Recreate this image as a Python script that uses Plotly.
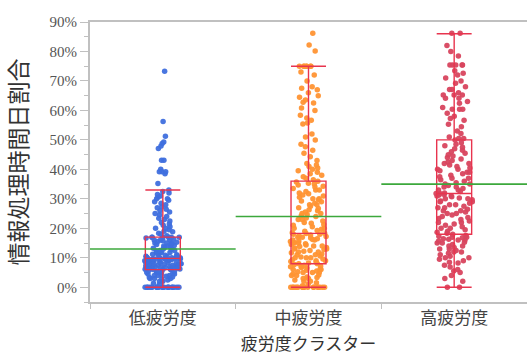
import plotly.graph_objects as go

categories = ["低疲労度", "中疲労度", "高疲労度"]

low_vals = [0, 0, 0, 0, 0, 0, 0, 0, 0, 0, 0, 0, 0, 0, 0, 0, 0, 0, 0, 0, 0, 0,
            1, 1.4, 2, 2, 2.5, 2.8, 3, 3, 3, 3.3, 3.5, 3.7, 4, 4, 4, 4.2, 4.5, 4.5, 4.8, 5, 5, 5, 5.2, 5.5, 5.5, 5.7, 5.9, 6,
            6, 6, 6.1, 6.2, 6.3, 6.5, 6.5, 6.6, 6.7, 6.7, 6.9, 7, 7, 7, 7.1, 7.2, 7.4, 7.5, 7.5, 7.7, 7.8, 8, 8, 8, 8, 8.1,
            8.3, 8.3, 8.4, 8.5, 8.6, 8.7, 8.9, 9, 9, 9, 9.1, 9.2, 9.3, 9.4, 9.5, 9.5, 9.6, 9.7, 9.7, 9.8, 9.8, 9.8, 9.8, 9.8,
            10, 10, 10, 10, 10, 10.2, 10.4, 10.5, 10.7, 10.9, 11, 11, 11.2, 11.5, 11.7, 11.8, 12, 12, 12.3, 12.5, 12.5, 12.8,
            13, 13, 13.2, 13.5, 13.7, 14, 14, 14.2, 14.5, 14.7, 15, 15, 15, 15.3, 15.5, 15.8, 16, 16, 16.2, 16.4, 16.7, 16.8,
            17, 17, 17, 17, 17, 17,
            17.5, 18, 18.3, 18.8, 19, 19.5, 20, 20, 20.5, 21, 21.5, 22, 22.5, 23, 23.4, 24, 24.5, 25, 25.5, 26, 26.5, 27,
            27.3, 28, 28.5, 29, 29.5, 30, 30, 30.5, 31, 31.5, 32, 32.5, 33,
            35.2, 38.5, 39.2, 39.2, 39.2, 40, 43.1, 43.1, 47.1, 47.9, 48.8, 49.3, 51.2, 56.2, 73.3]

mid_vals = [0, 0, 0, 0, 0, 0, 0, 0, 0, 0, 0, 0, 0, 0, 0, 0, 0, 0,
            0.5, 1, 1.5, 2, 2, 2.5, 3, 3, 3.3, 3.5, 4, 4, 4.2, 4.5, 5, 5, 5, 5.3, 5.5, 5.8, 6, 6, 6.2, 6.5, 6.7, 7, 7, 7.2,
            7.5, 7.7, 8, 8,
            8.2, 8.5, 8.7, 9, 9, 9.3, 9.6, 10, 10, 10, 10.3, 10.6, 11, 11, 11.3, 11.7, 12, 12, 12.2, 12.5, 12.8, 13, 13, 13.3,
            13.5, 13.8, 14, 14, 14.3, 14.5, 14.8, 15, 15, 15.2, 15.5, 15.7, 16, 16, 16.2, 16.5, 16.7, 17, 17, 17.2, 17.5, 17.7,
            18, 18, 18.2, 18.3,
            18.5, 19, 19.3, 19.7, 20, 20, 20.5, 21, 21.3, 21.7, 22, 22.5, 23, 23, 23.5, 24, 24.3, 24.7, 25, 25, 25.5, 26, 26.3,
            26.7, 27, 27.5, 28, 28, 28.5, 29, 29.3, 29.7, 30, 30, 30.5, 31, 31.3, 31.7, 32, 32.5, 33, 33, 33.5, 34, 34.3, 34.7,
            35, 35.3, 35.7, 36,
            36.5, 37, 37.5, 38, 38.5, 39, 39.5, 40, 40.5, 41, 41.5, 42, 43, 44.3, 45.5, 46.5, 47.7, 48.5, 50, 51, 52, 55.4, 55.7,
            56.7, 57.4, 58.4, 60, 60.8, 62.5, 62.8, 63.5, 64.5, 65, 66, 67, 67.5, 68, 70, 72, 73, 75, 75, 75, 75, 75, 75, 75,
            80.2, 82.2, 86.2]

high_vals = [0, 0, 2, 3, 4, 5, 5.5, 6, 6.9, 7.5, 8.2, 8.5, 9, 9.5, 10, 10, 10.5, 11, 11.5, 12, 12, 12.5, 13, 13, 13.5,
             14, 14, 14.5, 15, 15, 15.3, 15.7, 16, 16, 16.3, 16.5, 16.8, 17, 17, 17.3, 17.6, 18,
             18.3, 18.7, 19, 19.5, 20, 20, 20.5, 21, 21.5, 22, 22, 22.5, 23, 23.3, 23.7, 24, 24.5, 25, 25, 25.5, 26, 26, 26.5,
             27, 27, 27.5, 28, 28, 28.5, 29, 29, 29.3, 29.7, 30, 30, 30.3, 30.7, 31, 31, 31.3, 31.5, 31.8, 31.8,
             32, 32.5, 33, 33, 33.5, 34, 34, 34.5, 35, 35, 35.5, 36, 36.5, 37, 37, 37.5, 38, 38.5, 39, 39, 39.5, 40, 40, 40.5,
             41, 41.5, 42, 42, 42.5, 43, 43.5, 44, 44.5, 45, 45.5, 46, 46.5, 47, 47.5, 48, 48.5, 49, 50,
             50.5, 50.5, 51, 52.2, 53, 54.5, 55.3, 56.7, 57.3, 58, 59, 60.4, 60.4, 60.4, 61, 62.4, 63, 64.1, 64.1, 65.2, 65.2,
             65.2, 66, 67.1, 67.1, 68, 69.2, 70, 71, 72, 72.6, 73.5, 75.4, 75.4, 75.4, 75.4, 75.4, 78.5, 80, 82, 86.2, 86.2]

series_values = [low_vals, mid_vals, high_vals]

# box statistics (%)
q1_vals = [6, 8, 18]
median_vals = [9.8, 18.3, 31.8]
q3_vals = [17, 36, 50]
lower_fence = [0, 0, 0]
upper_fence = [33, 75, 86]
mean_vals = [13, 24, 35]

point_colors = ["#3f6fde", "#ff9333", "#d8445e"]
box_color = "#e8344e"
mean_color = "#3ca83c"
axis_color = "#c0c0c0"

fig = go.Figure()

for cat, vals, col in zip(categories, series_values, point_colors):
    fig.add_trace(go.Box(
        y=vals, name=cat, boxpoints="all", jitter=1, pointpos=0,
        width=0.25, line=dict(width=0, color="rgba(0,0,0,0)"),
        fillcolor="rgba(0,0,0,0)",
        marker=dict(color=col, size=5.5, opacity=0.95),
        hoverinfo="y",
    ))

for i, cat in enumerate(categories):
    fig.add_trace(go.Box(
        x=[cat], q1=[q1_vals[i]], median=[median_vals[i]], q3=[q3_vals[i]],
        lowerfence=[lower_fence[i]], upperfence=[upper_fence[i]],
        width=0.24, whiskerwidth=1, boxpoints=False,
        line=dict(color=box_color, width=1.4),
        fillcolor="rgba(0,0,0,0)",
    ))

for i, m in enumerate(mean_vals):
    fig.add_shape(type="line", xref="x", yref="y", x0=i - 0.5, x1=i + 0.5, y0=m, y1=m,
                  line=dict(color=mean_color, width=1.6), layer="above")

fig.update_layout(
    width=527, height=356,
    margin=dict(l=90, r=0, t=22, b=54),
    plot_bgcolor="white", paper_bgcolor="white",
    showlegend=False, boxmode="overlay",
)

fig.update_xaxes(
    type="category", categoryorder="array", categoryarray=categories,
    range=[-0.5, 2.5], showline=True, linecolor=axis_color, linewidth=2, mirror=True,
    tickson="boundaries", ticks="outside", ticklen=5, tickcolor=axis_color, tickwidth=1,
    showgrid=False, zeroline=False, automargin=False,
    tickfont=dict(family="Noto Sans CJK JP", size=17, color="#444"),
    title=dict(text="疲労度クラスター", font=dict(family="Noto Sans CJK JP", size=17, color="#333"), standoff=10),
)

fig.update_yaxes(
    range=[-5, 90], tick0=0, dtick=10, ticksuffix="%",
    showline=True, linecolor=axis_color, linewidth=2, mirror=False,
    ticks="outside", ticklen=8, tickcolor=axis_color, tickwidth=1,
    minor=dict(dtick=5, tick0=0, ticks="outside", ticklen=4, tickcolor=axis_color, showgrid=False),
    showgrid=False, zeroline=False, automargin=False,
    tickfont=dict(family="Liberation Serif", size=15, color="#555"),
    title=dict(text="情報処理時間日割合", font=dict(family="Noto Sans CJK JP", size=23, color="#333"), standoff=18),
)

fig.write_html("out.html", config={"displayModeBar": False},
               post_script="document.body.style.margin='0';document.body.style.overflow='hidden';")
